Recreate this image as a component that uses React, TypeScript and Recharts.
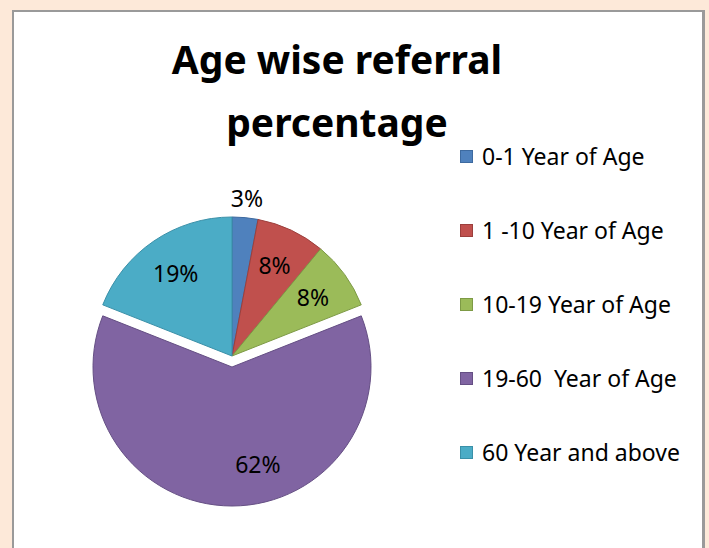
import React from 'react';
import { PieChart, Pie, Cell, Legend } from 'recharts';

const categories = ['0-1 Year of Age', '1 -10 Year of Age', '10-19 Year of Age', '19-60  Year of Age', '60 Year and above'];
const values = [3, 8, 8, 62, 19];
const labels = ['3%', '8%', '8%', '62%', '19%'];
const fills = ['#4f81bd', '#c0504d', '#9bbb59', '#8064a2', '#4bacc6'];
const strokes = ['#3d6aa0', '#9c3f3c', '#7d9a45', '#654f84', '#3a90a8'];
const explodedIndex = 3;

const data = categories.map((name, i) => ({ name, value: values[i], label: labels[i] }));

const RAD = Math.PI / 180;
const FONT = '"Noto Sans", sans-serif';

function makeLabel(showExploded: boolean) {
  return (props: any) => {
    const { cx, cy, midAngle, outerRadius, index } = props;
    const isExploded = index === explodedIndex;
    if (isExploded !== showExploded) return null;
    let r = outerRadius * 0.72;
    let ang = midAngle;
    if (index === 0) r = outerRadius + 20;
    if (isExploded) ang = midAngle + 15;
    const x = cx + r * Math.cos(-ang * RAD);
    const y = cy + r * Math.sin(-ang * RAD);
    return (
      <text x={x} y={y} textAnchor="middle" dominantBaseline="central" fill="#000" fontSize={23} fontFamily={FONT}>
        {data[index].label}
      </text>
    );
  };
}

const LegendContent = () => (
  <div style={{ fontFamily: FONT }}>
    {categories.map((c, i) => (
      <div key={c} style={{ display: 'flex', alignItems: 'center', height: 74 }}>
        <div style={{ width: 11, height: 11, background: fills[i], border: `1px solid ${strokes[i]}`, marginRight: 9 }} />
        <span style={{ fontSize: 23, color: '#000', whiteSpace: 'pre' }}>{c}</span>
      </div>
    ))}
  </div>
);

export default function App() {
  return (
    <div style={{ position: 'fixed', left: 0, top: 0, width: 709, height: 548, background: '#fde9d9', overflow: 'hidden' }}>
      <div style={{ position: 'absolute', left: 12, top: 10, width: 688, height: 600, background: '#fff', borderLeft: '2px solid #9a9a9a', borderTop: '2px solid #9a9a9a', borderRight: '3px solid #9a9a9a' }} />
      <div style={{ position: 'absolute', left: 0, top: 27, width: 674, textAlign: 'center', fontFamily: FONT, fontWeight: 'bold', fontSize: 39, lineHeight: '63px', color: '#000' }}>
        Age wise referral<br />percentage
      </div>
      <div style={{ position: 'absolute', left: 0, top: 0 }}>
        <PieChart width={709} height={548} margin={{ top: 0, right: 0, bottom: 0, left: 0 }}>
          <Pie
            data={data}
            dataKey="value"
            nameKey="name"
            cx={232}
            cy={356}
            outerRadius={139}
            startAngle={90}
            endAngle={-270}
            isAnimationActive={false}
            labelLine={false}
            label={makeLabel(false)}
            legendType="none"
          >
            {data.map((d, i) => (
              <Cell key={i} fill={i === explodedIndex ? 'none' : fills[i]} stroke={i === explodedIndex ? 'none' : strokes[i]} strokeWidth={1} />
            ))}
          </Pie>
          <Pie
            data={data}
            dataKey="value"
            nameKey="name"
            cx={232}
            cy={367}
            outerRadius={139}
            startAngle={90}
            endAngle={-270}
            isAnimationActive={false}
            labelLine={false}
            label={makeLabel(true)}
            legendType="none"
          >
            {data.map((d, i) => (
              <Cell key={i} fill={i === explodedIndex ? fills[i] : 'none'} stroke={i === explodedIndex ? strokes[i] : 'none'} strokeWidth={1} />
            ))}
          </Pie>
          <Legend
            layout="vertical"
            content={<LegendContent />}
            wrapperStyle={{ position: 'absolute', left: 460, top: 119, width: 245 }}
          />
        </PieChart>
      </div>
    </div>
  );
}
